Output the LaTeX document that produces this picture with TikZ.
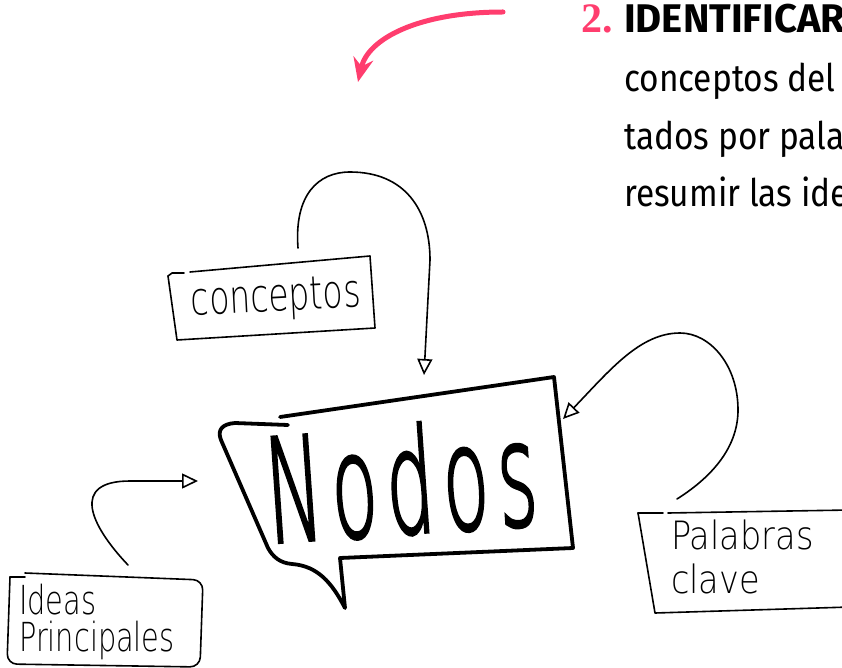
\documentclass[tikz,border=0pt]{standalone}
\usepackage{fontspec}
\usepackage{tikz}
\usetikzlibrary{arrows.meta,positioning,calc}
\definecolor{accent}{HTML}{FF3D6E}
\newfontfamily\handfont{DejaVu Sans ExtraLight}[FakeStretch=0.72]
\newfontfamily\handwide{DejaVu Sans ExtraLight}[FakeStretch=0.86]
\newfontfamily\bigfont{DejaVu Sans ExtraLight}[FakeBold=2.6]
\newfontfamily\headfont{Fira Sans}[FakeStretch=0.88]
\newfontfamily\titlefont{Fira Sans}
\newfontfamily\numfont{Liberation Serif}
\newcommand{\gap}{\kern9pt}
\tikzset{
  sketch/.style={line width=1.6pt,line cap=round,line join=round},
  bubble/.style={line width=3.8pt,line cap=round,line join=round},
  hand/.style={inner sep=0pt,align=left,font=\handfont\fontsize{40}{37}\selectfont},
  loop/.style={sketch,-{Triangle[open,length=16pt,width=15pt,line width=1.6pt]}},
  headtxt/.style={inner sep=0pt,anchor=base west,font=\headfont\fontsize{38}{40}\selectfont},
  pinkarrow/.style={draw=accent,line width=5pt,line cap=round,
    -{Stealth[length=24pt,width=20pt,inset=8pt]}},
}
\begin{document}
\begin{tikzpicture}[x=1pt,y=-1pt]
  \useasboundingbox (0,0) rectangle (842,668);
  % heading, right
  \node[inner sep=0pt,anchor=base east,text=accent,
    font=\numfont\bfseries\fontsize{42}{42}\selectfont] (num) at (613,33){2.};
  \node[headtxt,font=\titlefont\bfseries\fontsize{40}{40}\selectfont] (title) at (624,33){IDENTIFICAR};
  \node[headtxt] (line1) at (624,92){conceptos del};
  \node[headtxt] (line2) at (624,150){tados por pala};
  \node[headtxt] (line3) at (624,207){resumir las ide};
  % pink pointer
  \coordinate (pinkfrom) at (503,12);
  \coordinate (pinkto) at (358,82);
  \draw[pinkarrow] (pinkfrom) .. controls (420,12) and (368,38) .. (pinkto);
  % speech bubble
  \draw[bubble] (280,417) -- (554,377) -- (573,548) -- (340,558) -- (345,608)
    .. controls (332,583) and (318,566) .. (292,564)
    .. controls (280,563) and (273,557) .. (268,548) -- (221,440)
    .. controls (217,430) and (222,424) .. (235,423) -- (288,425);
  \node[inner sep=0pt,rotate=4,font=\bigfont\fontsize{75}{75}\selectfont] (nodos) at (401,480)
    {\scalebox{1}[1.92]{N\gap o\gap d\gap o\gap s}};
  \coordinate (nodostop) at (424,375);
  \coordinate (nodosleft) at (198,481);
  \coordinate (nodosright) at (563,419);
  % box: conceptos
  \draw[sketch] (168,276) -- (172,273) -- (184,273);
  \draw[sketch] (190,272) -- (370,256) -- (375,328) -- (177,340) -- (168,276);
  \node[hand,rotate=3,font=\handfont\fontsize{46}{46}\selectfont] (conceptos) at (276,300){conceptos};
  \coordinate (conceptosup) at (298,248);
  \draw[loop] (conceptosup) .. controls (294,195) and (318,172) .. (350,172)
    .. controls (405,172) and (430,210) .. (430,260) -- (nodostop);
  % box: ideas principales
  \draw[sketch] (10,577) -- (25,577);
  \draw[sketch,rounded corners=10pt] (25,573) -- (203,580) -- (200,667) -- (7,664) -- (10,577);
  \node[hand,anchor=north west] (ideas) at (19,584){Ideas\\Principales};
  \coordinate (ideasup) at (128,565);
  \draw[loop] (ideasup) .. controls (90,525) and (70,481) .. (130,481)
    .. controls (160,481) and (180,481) .. (nodosleft);
  % box: palabras clave
  \draw[sketch] (638,513) -- (663,513);
  \draw[sketch] (668,513) -- (850,510);
  \draw[sketch] (638,513) -- (655,613) -- (850,607);
  \node[hand,anchor=north west,font=\handwide\fontsize{39}{44}\selectfont] (palabras) at (671,520){Palabras\\clave};
  \coordinate (palabrasup) at (677,499);
  \draw[loop] (palabrasup) .. controls (715,475) and (738,445) .. (738,410)
    .. controls (738,365) and (710,333) .. (680,333)
    .. controls (640,333) and (610,370) .. (nodosright);
\end{tikzpicture}
\end{document}
